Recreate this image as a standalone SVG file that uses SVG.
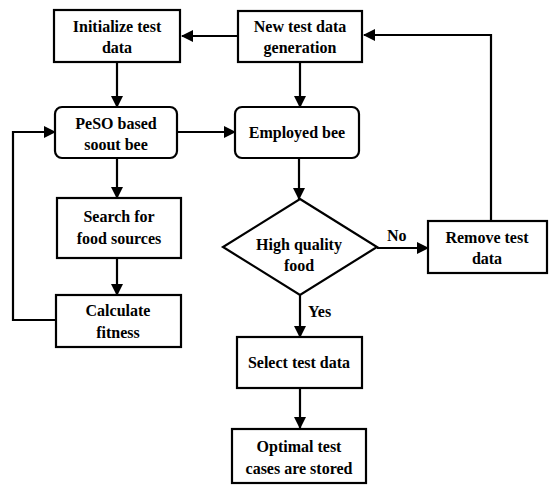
<svg xmlns="http://www.w3.org/2000/svg" width="550" height="485" viewBox="0 0 550 485">
<defs>
<marker id="ah" markerWidth="12" markerHeight="12" refX="11" refY="6" orient="auto" markerUnits="userSpaceOnUse">
<path d="M0,0 L12,6 L0,12 Z" fill="#000"/>
</marker>
</defs>
<rect width="550" height="485" fill="#fff"/>
<g id="connectors" fill="none" stroke="#000" stroke-width="2.2" marker-end="url(#ah)">
<path d="M238,36 H182"/>
<path d="M117,62 V107"/>
<path d="M177,132 H235"/>
<path d="M300,62 V107"/>
<path d="M299,158 V199"/>
<path d="M117,158 V198"/>
<path d="M117,258 V295"/>
<path d="M56,320 H13 V132 H55"/>
<path d="M377,248 H428"/>
<path d="M491,221 V35 H364"/>
<path d="M300,295 V337"/>
<path d="M300,388 V428"/>
</g>
<text x="387" y="241" font-family="Liberation Serif" font-size="16" font-weight="bold">No</text>
<text x="308" y="317" font-family="Liberation Serif" font-size="16" font-weight="bold">Yes</text>
<g id="nodes" fill="#fff" stroke="#000" stroke-width="2.2">
<g id="init"><rect x="54" y="10" width="126" height="52"/></g>
<g id="newgen"><rect x="238" y="11" width="124" height="51"/></g>
<g id="peso"><rect x="55" y="107" width="122" height="51" rx="7"/></g>
<g id="employed"><rect x="235" y="107" width="124" height="51" rx="7"/></g>
<g id="search"><rect x="57" y="198" width="124" height="60"/></g>
<g id="calc"><rect x="56" y="295" width="125" height="52"/></g>
<g id="decision"><polygon points="300,199 377,247 300,295 223,247"/></g>
<g id="remove"><rect x="428" y="221" width="119" height="52"/></g>
<g id="select"><rect x="237" y="337" width="125" height="51"/></g>
<g id="optimal"><rect x="232" y="429" width="134" height="54"/></g>
</g>
<text x="117" y="32" font-family="Liberation Serif" font-size="16" font-weight="bold" text-anchor="middle">Initialize test</text>
<text x="117" y="53" font-family="Liberation Serif" font-size="16" font-weight="bold" text-anchor="middle">data</text>
<text x="300" y="32" font-family="Liberation Serif" font-size="16" font-weight="bold" text-anchor="middle">New test data</text>
<text x="300" y="53" font-family="Liberation Serif" font-size="16" font-weight="bold" text-anchor="middle">generation</text>
<text x="116" y="129" font-family="Liberation Serif" font-size="16" font-weight="bold" text-anchor="middle">PeSO based</text>
<text x="116" y="150" font-family="Liberation Serif" font-size="16" font-weight="bold" text-anchor="middle">soout bee</text>
<text x="297" y="138" font-family="Liberation Serif" font-size="16" font-weight="bold" text-anchor="middle">Employed bee</text>
<text x="119" y="222" font-family="Liberation Serif" font-size="16" font-weight="bold" text-anchor="middle">Search for</text>
<text x="119" y="244" font-family="Liberation Serif" font-size="16" font-weight="bold" text-anchor="middle">food sources</text>
<text x="118" y="316" font-family="Liberation Serif" font-size="16" font-weight="bold" text-anchor="middle">Calculate</text>
<text x="118" y="338" font-family="Liberation Serif" font-size="16" font-weight="bold" text-anchor="middle">fitness</text>
<text x="299" y="250" font-family="Liberation Serif" font-size="16" font-weight="bold" text-anchor="middle">High quality</text>
<text x="299" y="271" font-family="Liberation Serif" font-size="16" font-weight="bold" text-anchor="middle">food</text>
<text x="487" y="243" font-family="Liberation Serif" font-size="16" font-weight="bold" text-anchor="middle">Remove test</text>
<text x="487" y="264" font-family="Liberation Serif" font-size="16" font-weight="bold" text-anchor="middle">data</text>
<text x="299" y="368" font-family="Liberation Serif" font-size="16" font-weight="bold" text-anchor="middle">Select test data</text>
<text x="299" y="452" font-family="Liberation Serif" font-size="16" font-weight="bold" text-anchor="middle">Optimal test</text>
<text x="299" y="474" font-family="Liberation Serif" font-size="16" font-weight="bold" text-anchor="middle">cases are stored</text>
</svg>
